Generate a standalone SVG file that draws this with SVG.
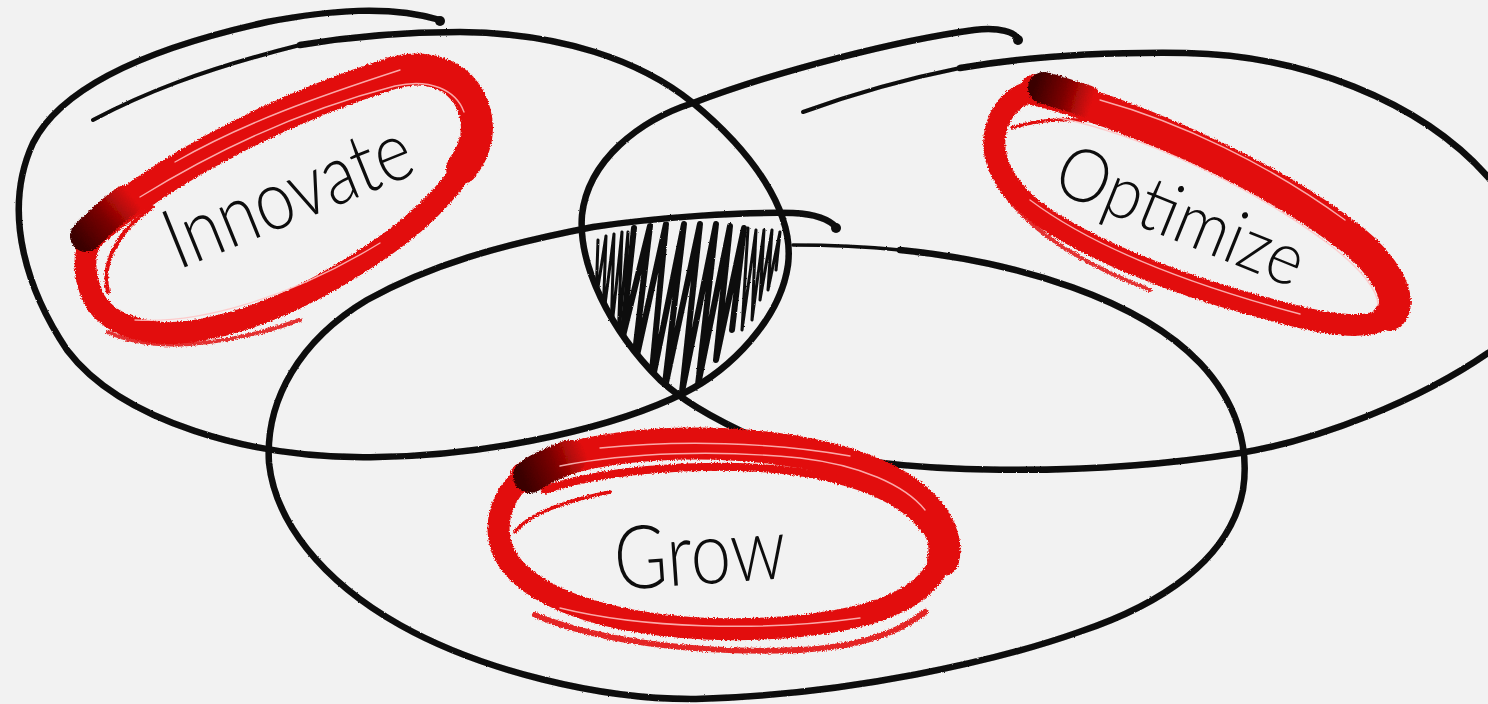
<svg xmlns="http://www.w3.org/2000/svg" width="1488" height="704" viewBox="0 0 1488 704">
<style>
.ink{fill:none;stroke:#0b0b0b;stroke-linecap:round;stroke-linejoin:round}
.red{fill:none;stroke:#e2110f;stroke-linecap:round;stroke-linejoin:round}
.hl{fill:none;stroke:#ffc4c4;stroke-width:1.4;stroke-linecap:round;opacity:.85}
.lbl{font-family:Lato,"Liberation Sans",sans-serif;font-weight:300;fill:#0d0d0d}
</style>
<defs>
<filter id="rough" x="-10%" y="-20%" width="120%" height="140%">
<feTurbulence type="fractalNoise" baseFrequency="0.7" numOctaves="2" seed="4" result="n"/>
<feDisplacementMap in="SourceGraphic" in2="n" scale="4" xChannelSelector="R" yChannelSelector="G"/>
</filter>
<filter id="wob" x="-5%" y="-5%" width="110%" height="110%">
<feTurbulence type="fractalNoise" baseFrequency="0.5" numOctaves="1" seed="7" result="n"/>
<feDisplacementMap in="SourceGraphic" in2="n" scale="2" xChannelSelector="R" yChannelSelector="G"/>
</filter>
<linearGradient id="blobI" gradientUnits="userSpaceOnUse" x1="78" y1="242" x2="132" y2="196">
<stop offset="0" stop-color="#3a0000"/><stop offset="0.5" stop-color="#7a0000"/><stop offset="1" stop-color="#e2110f"/>
</linearGradient>
<linearGradient id="blobO" gradientUnits="userSpaceOnUse" x1="1034" y1="86" x2="1092" y2="104">
<stop offset="0" stop-color="#3a0000"/><stop offset="0.5" stop-color="#7a0000"/><stop offset="1" stop-color="#e2110f"/>
</linearGradient>
<linearGradient id="blobG" gradientUnits="userSpaceOnUse" x1="522" y1="478" x2="586" y2="452">
<stop offset="0" stop-color="#3a0000"/><stop offset="0.5" stop-color="#7a0000"/><stop offset="1" stop-color="#e2110f"/>
</linearGradient>
<clipPath id="lens">
<path d="M 588,228 L 790,212 C 794,260 782,300 750,340 C 728,366 705,382 682,394 C 655,375 628,345 610,317 C 593,288 584,258 588,228 Z"/>
</clipPath>
</defs>
<rect width="1488" height="704" fill="#f2f2f2"/>

<g id="venn-outlines" filter="url(#wob)">
<g id="circle-innovate">
<path class="ink" stroke-width="4" d="M 93,120 C 140,95 200,70 300,45"/>
<path class="ink" stroke-width="6.5" d="M 300,45 C 360,35 420,32 460,32 C 560,33 640,60 693,103 C 750,150 795,210 788,265 C 780,320 730,370 684,393 C 620,425 500,455 378,457 C 250,460 120,420 67,350 C 30,295 0,215 33,143 C 60,90 140,50 267,22 C 330,10 390,5 440,20"/>
<circle cx="440" cy="21" r="5" fill="#0b0b0b"/>
</g>
<g id="circle-optimize">
<path class="ink" stroke-width="4" d="M 803,112 C 850,95 900,80 960,68"/>
<path class="ink" stroke-width="6.5" d="M 960,68 C 1030,56 1110,52 1186,53 C 1300,55 1420,100 1488,177 C 1560,260 1540,320 1488,353 C 1420,400 1320,440 1240,453 C 1100,475 900,480 760,440 C 705,415 680,398 660,380 C 610,330 578,265 582,215 C 588,160 640,120 693,103 C 780,70 900,40 974,30 C 1000,27 1015,32 1019,40"/>
<circle cx="1018" cy="40" r="5" fill="#0b0b0b"/>
</g>
<g id="circle-grow">
<path class="ink" stroke-width="3.5" d="M 793,245 C 830,245 870,247 900,250"/>
<path class="ink" stroke-width="6.5" d="M 900,250 C 1020,262 1140,300 1200,363 C 1235,400 1250,445 1243,490 C 1230,560 1160,605 1079,632 C 1000,660 850,695 696,699 C 600,700 480,670 400,625 C 320,580 275,520 269,463 C 265,400 300,340 367,300 C 430,265 500,245 593,227 C 660,217 740,212 793,213 C 815,214 830,220 837,228"/>
<circle cx="836" cy="228" r="5" fill="#0b0b0b"/>
</g>
<g id="center-hatch" clip-path="url(#lens)">
<path class="ink" stroke-width="6" d="M 634,228 L 622,340 L 650,226 L 632,378 L 666,224 L 650,392 L 684,224 L 664,392 L 700,224 L 682,392 L 716,224 L 698,385 L 730,226 L 716,360 L 744,228 L 732,330"/>
<path class="ink" stroke-width="3" d="M 598,240 L 596,300 L 606,236 L 603,320 L 614,234 L 611,335 L 622,232 L 618,345 L 628,232 L 624,352"/>
<path class="ink" stroke-width="3" d="M 748,228 L 742,330 L 756,230 L 752,320 L 764,230 L 760,300 L 772,230 L 768,290 L 780,232 L 776,270"/>
</g>
</g>

<g id="node-innovate">
<g filter="url(#rough)">
<path class="red" stroke-width="22" d="M 95,232 C 150,180 260,115 393,73 C 440,60 475,85 477,127 C 478,160 440,205 393,240 C 340,278 270,318 200,330 C 150,340 105,325 92,295 C 82,270 84,248 95,232 Z"/>
<path class="red" stroke-width="32" d="M 90,234 C 150,180 260,115 393,73 C 440,60 475,85 477,127 C 477,145 470,158 462,168"/>
<path fill="none" stroke="url(#blobI)" stroke-width="32" stroke-linecap="round" d="M 86,236 C 96,226 108,214 126,201"/>
<path class="red" stroke-width="4" d="M 152,207 C 122,228 100,260 108,292"/>
<path class="red" stroke-width="4" opacity="0.85" d="M 108,332 C 150,352 220,348 300,320"/>
</g>
<path class="hl" d="M 140,197 C 200,160 290,113 395,86 C 430,78 456,90 464,112"/>
<path class="hl" d="M 175,162 C 245,122 320,96 400,70"/>
<path class="hl" d="M 135,320 C 200,324 290,298 380,243"/>
<text class="lbl" transform="translate(178,270) rotate(-22)" font-size="84" textLength="260" lengthAdjust="spacingAndGlyphs">Innovate</text>
</g>

<g id="node-optimize">
<g filter="url(#rough)">
<path class="red" stroke-width="22" d="M 1030,92 C 1120,110 1260,170 1340,230 C 1385,262 1405,300 1385,318 C 1360,335 1300,318 1247,303 C 1180,285 1090,250 1040,215 C 1000,185 985,150 1000,118 C 1008,102 1018,95 1030,92 Z"/>
<path class="red" stroke-width="32" d="M 1036,90 C 1120,110 1260,170 1340,230 C 1385,262 1405,300 1390,315"/>
<path fill="none" stroke="url(#blobO)" stroke-width="32" stroke-linecap="round" d="M 1044,88 C 1056,91 1068,95 1086,101"/>
<path class="red" stroke-width="3.5" d="M 1012,128 C 1040,118 1080,118 1110,123"/>
<path class="red" stroke-width="4" opacity="0.85" d="M 990,168 C 1010,215 1060,255 1150,290"/>
</g>
<path class="hl" d="M 1060,118 C 1140,135 1250,185 1330,245 C 1360,268 1378,290 1378,305"/>
<path class="hl" d="M 1100,100 C 1180,122 1270,165 1345,220"/>
<path class="hl" d="M 1030,200 C 1090,245 1180,282 1300,314"/>
<text class="lbl" transform="translate(1050,190) rotate(22)" font-size="74" textLength="262" lengthAdjust="spacingAndGlyphs">Optimize</text>
</g>

<g id="node-grow">
<g filter="url(#rough)">
<path class="red" stroke-width="22" d="M 527,475 C 570,448 660,440 740,445 C 840,452 910,480 935,520 C 955,555 935,590 880,610 C 820,630 720,635 640,622 C 570,610 515,585 502,548 C 492,520 505,490 527,475 Z"/>
<path class="red" stroke-width="32" d="M 526,477 C 570,448 660,440 740,445 C 840,452 910,480 935,520 C 945,537 946,550 943,560"/>
<path class="red" stroke-width="8" d="M 545,490 C 600,470 690,464 760,468 C 850,474 905,500 925,530"/>
<path fill="none" stroke="url(#blobG)" stroke-width="34" stroke-linecap="round" d="M 530,476 C 540,469 552,463 570,457"/>
<path class="red" stroke-width="6" opacity="0.9" d="M 535,615 C 600,642 700,654 800,650 C 860,647 900,632 925,612"/>
<path class="red" stroke-width="3.5" d="M 610,492 C 570,500 530,512 515,532"/>
</g>
<path class="hl" d="M 560,466 C 630,452 720,450 800,458 C 860,465 905,485 925,510"/>
<path class="hl" d="M 600,448 C 680,440 770,442 850,456"/>
<path class="hl" d="M 560,608 C 640,628 760,632 860,618"/>
<text class="lbl" transform="translate(616,590) rotate(-4)" font-size="88" textLength="172" lengthAdjust="spacingAndGlyphs">Grow</text>
</g>
</svg>
